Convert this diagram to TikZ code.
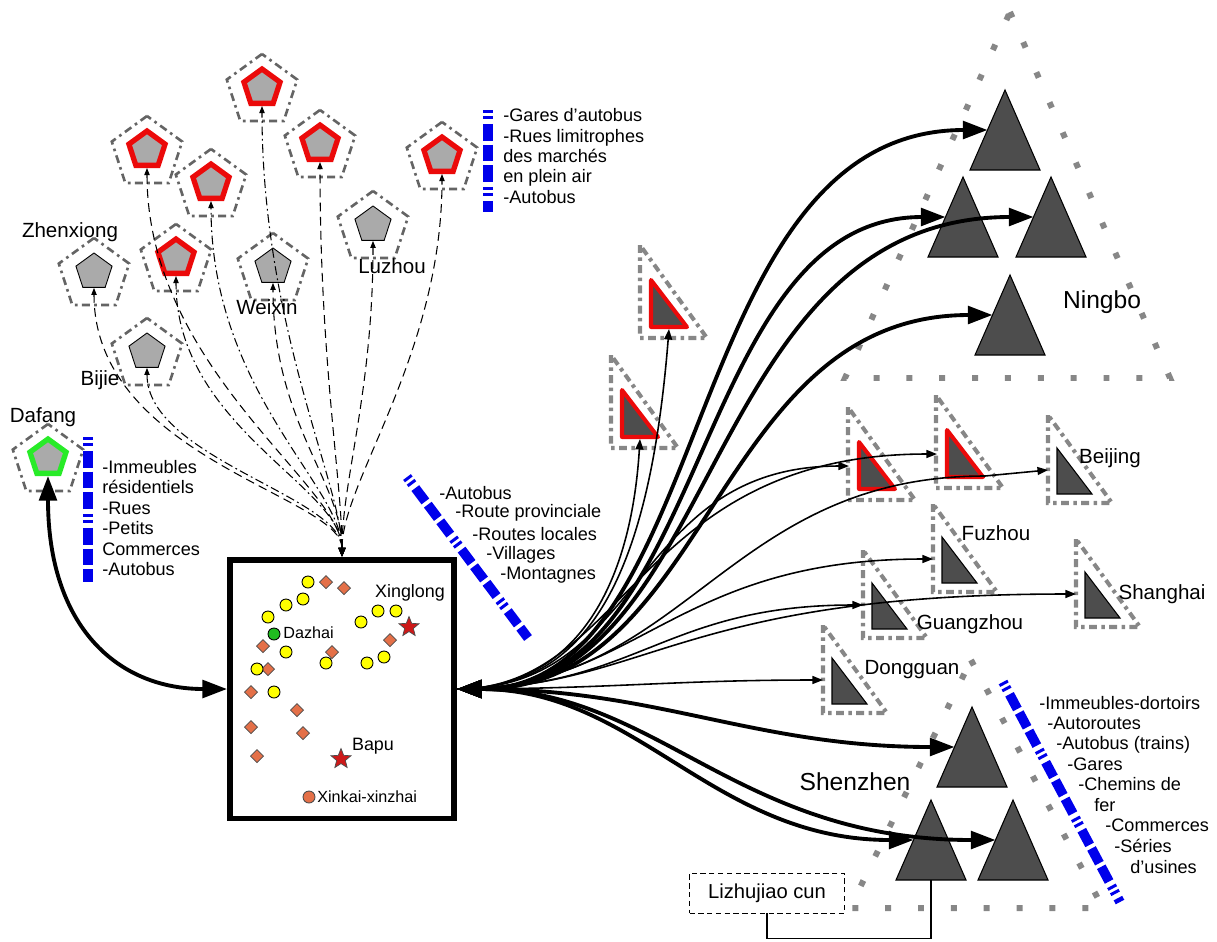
\documentclass[tikz,border=0pt]{standalone}
\usepackage{fontspec}
\setmainfont{Liberation Sans}
\usetikzlibrary{shapes.geometric, arrows.meta}
\definecolor{penGray}{RGB}{170,170,170}
\definecolor{ringGray}{RGB}{100,100,100}
\definecolor{dotGray}{RGB}{135,135,135}
\definecolor{triGray}{RGB}{77,77,77}
\definecolor{redBorder}{RGB}{235,10,10}
\definecolor{greenBorder}{RGB}{40,235,40}
\definecolor{barBlue}{RGB}{0,0,235}
\definecolor{dotYellow}{RGB}{255,255,0}
\definecolor{dotOrange}{RGB}{228,112,72}
\definecolor{starRed}{RGB}{205,25,25}

\begin{document}
\begin{tikzpicture}[x=0.02cm, y=-0.02cm,
    pent/.style={regular polygon, regular polygon sides=5, minimum size=0.76cm, inner sep=0pt, fill=penGray, draw=black, line width=0.5pt},
    pentred/.style={pent, draw=redBorder, line width=3pt},
    pentgreen/.style={pent, draw=greenBorder, line width=3pt},
    pentring/.style={regular polygon, regular polygon sides=5, minimum size=1.48cm, inner sep=0pt, draw=ringGray, line width=1.5pt, dash pattern=on 4.5pt off 2.5pt on 1.5pt off 2.5pt},
    lbl/.style={font=\fontsize{11.7}{13}\selectfont, inner sep=0pt},
    bigfont/.style={font=\fontsize{14}{16}\selectfont, inner sep=0pt},
    listtext/.style={font=\fontsize{10.3}{11.6}\selectfont, align=left, inner sep=0pt},
    boxlbl/.style={font=\fontsize{10.2}{12}\selectfont, inner sep=0pt},
    smallfont/.style={font=\fontsize{9.2}{11}\selectfont, inner sep=0pt},
    bluebar/.style={barBlue, line width=5.5pt, dash pattern=on 1.7pt off 1.7pt on 1.7pt off 2.8pt on 9.5pt off 2.3pt on 9.5pt off 2.3pt on 9.5pt off 2.8pt},
    bigdots/.style={dotGray, line width=3.4pt, dash pattern=on 3.4pt off 15.3pt},
    triout/.style={dotGray, line width=2.3pt, dash pattern=on 4.5pt off 2.5pt on 2pt off 2.5pt},
    fanthick/.style={line width=2.2pt, {Triangle[length=14pt,width=10pt]}-{Triangle[length=14pt,width=10pt]}},
    fanthin/.style={line width=0.9pt, -{Triangle[length=6pt,width=4.5pt]}},
    pline/.style={line width=0.6pt, {Triangle[length=5pt,width=4pt]}-{Triangle[length=4pt,width=3pt]}},
    pdash/.style={pline, dash pattern=on 5pt off 3pt},
    pdot/.style={pline, dash pattern=on 5pt off 2pt on 1pt off 2pt}]
  \useasboundingbox (0,0) rectangle (1217,941);

  % pentagons
  \foreach \n/\x/\y/\s in {p1/262/88/pentred, p2/147/150/pentred, p3/211/183/pentred, p4/320/144/pentred, p5/442/156/pentred, p6/176/258/pentred, lz/373/225/pent, wx/273/267/pent, zx/94/272/pent, bj/147/352/pent, df/48/458/pentgreen} {
    \node[pentring] (\n-r) at (\x,\y+3) {};
    \node[\s] (\n) at (\x,\y) {};
  }
  \node[lbl] (zxl) at (70,232) {Zhenxiong};
  \node[lbl] (wxl) at (267,307) {Weixin};
  \node[lbl] (lzl) at (392,266) {Luzhou};
  \node[lbl] (bjl) at (100,380) {Bijie};
  \node[lbl] (dfl) at (43,417) {Dafang};

  % blue bars and lists
  \draw[bluebar] (88,437) -- (88,582);
  \draw[bluebar] (488,110) -- (488,212);
  \draw[bluebar] (407,477) -- (528,638);
  \draw[bluebar] (1003,682) -- (1120,902);
  \node[listtext, anchor=west] (dflist) at (102,518) {-Immeubles\\résidentiels\\-Rues\\-Petits\\Commerces\\-Autobus};
  \node[listtext, anchor=west] (toplist) at (503,156) {-Gares d'autobus\\-Rues limitrophes\\des marchés\\en plein air\\-Autobus};
  \foreach \t/\x/\y [count=\i] in {{-Autobus}/439/493, {-Route provinciale}/455/513, {-Routes locales}/472/534, {-Villages}/486/555, {-Montagnes}/500/575}
    \node[listtext, anchor=west] (rd\i) at (\x,\y) {\t};
  \foreach \t/\x/\y [count=\i] in {{-Immeubles-dortoirs}/1039/703, {-Autoroutes}/1047/723, {-Autobus (trains)}/1056/745, {-Gares}/1067/764, {-Chemins de}/1078/784, {fer}/1094/805, {-Commerces}/1105/825, {-Séries}/1114/846, {d'usines}/1130/867}
    \node[listtext, anchor=west] (sz\i) at (\x,\y) {\t};

  % central box
  \node[draw, line width=3.4pt, minimum width=4.48cm, minimum height=5.18cm, inner sep=0pt] (box) at (342,689) {};
  \foreach \x/\y in {326/582, 344/588, 263/646, 268/669, 332/652, 251/692, 390/640, 297/710, 251/727, 303/733, 257/756}
    \filldraw[fill=dotOrange, draw=black!70, line width=0.4pt] (\x,\y-6.5) -- (\x+6.5,\y) -- (\x,\y+6.5) -- (\x-6.5,\y) -- cycle;
  \foreach \x/\y in {308/582, 286/605, 303/599, 268/617, 286/652, 257/669, 274/692, 326/663, 361/622, 378/611, 396/611, 367/663, 384/657}
    \filldraw[fill=dotYellow, draw=black, line width=0.5pt] (\x,\y) circle (6);
  \filldraw[fill=greenBorder!80!black, draw=black, line width=0.5pt] (274,634) circle (6);
  \filldraw[fill=dotOrange, draw=black!70, line width=0.5pt] (309,797) circle (6);
  \node[star, star points=5, star point ratio=2.3, minimum size=0.42cm, inner sep=0pt, fill=starRed, draw=black!70, line width=0.4pt] (st1) at (409,627) {};
  \node[star, star points=5, star point ratio=2.3, minimum size=0.42cm, inner sep=0pt, fill=starRed, draw=black!70, line width=0.4pt] (st2) at (341,759) {};
  \node[smallfont, anchor=west] (dzl) at (283,633) {Dazhai};
  \node[boxlbl] (xll) at (410,593) {Xinglong};
  \node[boxlbl] (bpl) at (373,746) {Bapu};
  \node[smallfont, anchor=west] (xkl) at (317,797) {Xinkai-xinzhai};

  % city groups
  \draw[bigdots] (1010,12) -- (1170,378) -- (845,378) -- cycle;
  \draw[bigdots] (971,660) -- (1103,908) -- (850,908) -- cycle;
  \foreach \n/\x/\y in {t1/1005/90, t2/963/177, t3/1051/177, t4/1010/275, s1/972/707, s2/931/800, s3/1013/800} {
    \filldraw[fill=triGray, draw=black, line width=0.6pt] (\x,\y) -- (\x+35,\y+80) -- (\x-35,\y+80) -- cycle;
    \coordinate (\n) at (\x-17.5,\y+40);
    \coordinate (\n-b) at (\x,\y+80);
  }
  \node[bigfont] (nbl) at (1102,302) {Ningbo};
  \node[bigfont] (szl) at (855,782) {Shenzhen};

  \foreach \n/\x/\y in {bjg/1057/448, fz/942/537, gz/872/583, sh/1085/572, dg/832/658} {
    \draw[triout] (\x-9,\y-33) -- (\x-9,\y+55) -- (\x+55,\y+55) -- cycle;
    \filldraw[fill=triGray, draw=black, line width=0.6pt] (\x,\y) -- (\x,\y+46) -- (\x+35,\y+46) -- cycle;
    \coordinate (\n) at (\x-9,\y+22);
  }
  \foreach \n/\x/\y in {r1/649/278, r2/620/388, r3/857/440, r4/945/428} {
    \draw[triout] (\x-9,\y-33) -- (\x-9,\y+60) -- (\x+58,\y+60) -- cycle;
    \filldraw[fill=triGray, draw=redBorder, line width=2.3pt, line join=round] (\x+2,\y+2) -- (\x+2,\y+49) -- (\x+38,\y+49) -- cycle;
    \coordinate (\n-l) at (\x-8,\y+26);
    \coordinate (\n-b) at (\x+20,\y+51);
    \coordinate (\n-e) at (\x+40,\y+48);
  }
  \node[lbl] (bjgl) at (1110,458) {Beijing};
  \node[lbl] (fzl) at (996,533) {Fuzhou};
  \node[lbl] (gzl) at (970,624) {Guangzhou};
  \node[lbl] (shl) at (1162,594) {Shanghai};
  \node[lbl] (dgl) at (912,670) {Dongguan};

  \node[draw, densely dashed, line width=0.5pt, minimum width=3.1cm, minimum height=0.8cm, inner sep=0pt, font=\fontsize{11.5}{13}\selectfont] (lzc) at (767,893) {Lizhujiao cun};
  \draw[line width=0.6pt] (lzc.south) -- ++(0,25) -| (s2-b);

  % pentagon links
  \draw[pdot] (box.north) .. controls +(0,-70) and +(0,220) .. (p1.south);
  \draw[pdash] (box.north) .. controls +(0,-70) and +(0,200) .. (p2.south);
  \draw[pdot] (box.north) .. controls +(0,-70) and +(0,190) .. (p3.south);
  \draw[pdash] (box.north) .. controls +(0,-75) and +(0,200) .. (p4.south);
  \draw[pdash] (box.north) .. controls +(0,-75) and +(0,180) .. (p5.south);
  \draw[pdot] (box.north) .. controls +(0,-70) and +(0,150) .. (p6.south);
  \draw[pdash] (box.north) .. controls +(0,-75) and +(0,150) .. (lz.south);
  \draw[pdash] (box.north) .. controls +(0,-75) and +(0,140) .. (wx.south);
  \draw[pdash] (box.north) .. controls +(0,-60) and +(0,170) .. (zx.south);
  \draw[pdot] (box.north) .. controls +(0,-60) and +(0,90) .. (bj.south);

  \draw[fanthick] (box.west) .. controls +(-110,0) and +(0,150) .. (df.south);

  % fan to the cities
  \draw[fanthin] (box.east) .. controls +(130,0) and +(-20,250) .. (r1-b);
  \draw[fanthin] (box.east) .. controls +(110,0) and +(-10,160) .. (r2-b);
  \draw[fanthin] (box.east) .. controls +(190,0) and +(-220,0) .. (r3-l);
  \draw[fanthin] (box.east) .. controls +(170,0) and +(-300,0) .. (r4-l);
  \draw[fanthin] (box.east) .. controls +(230,0) and +(-260,0) .. (r4-e) -- (bjg);
  \draw[fanthin] (box.east) .. controls +(180,0) and +(-260,0) .. (fz);
  \draw[fanthin] (box.east) .. controls +(190,0) and +(-400,0) .. (sh);
  \draw[fanthin] (box.east) .. controls +(180,0) and +(-200,0) .. (gz);
  \draw[fanthin] (box.east) .. controls +(150,0) and +(-150,0) .. (dg);
  \draw[fanthick] (box.east) .. controls +(260,0) and +(-310,0) .. (t1);
  \draw[fanthick] (box.east) .. controls +(255,0) and +(-255,0) .. (t2);
  \draw[fanthick] (box.east) .. controls +(265,0) and +(-333,0) .. (t3);
  \draw[fanthick] (box.east) .. controls +(255,0) and +(-280,0) .. (t4);
  \draw[fanthick] (box.east) .. controls +(200,0) and +(-200,0) .. (s1);
  \draw[fanthick] (box.east) .. controls +(180,0) and +(-200,0) .. (s2);
  \draw[fanthick] (box.east) .. controls +(200,0) and +(-260,0) .. (s3);
\end{tikzpicture}
\end{document}
